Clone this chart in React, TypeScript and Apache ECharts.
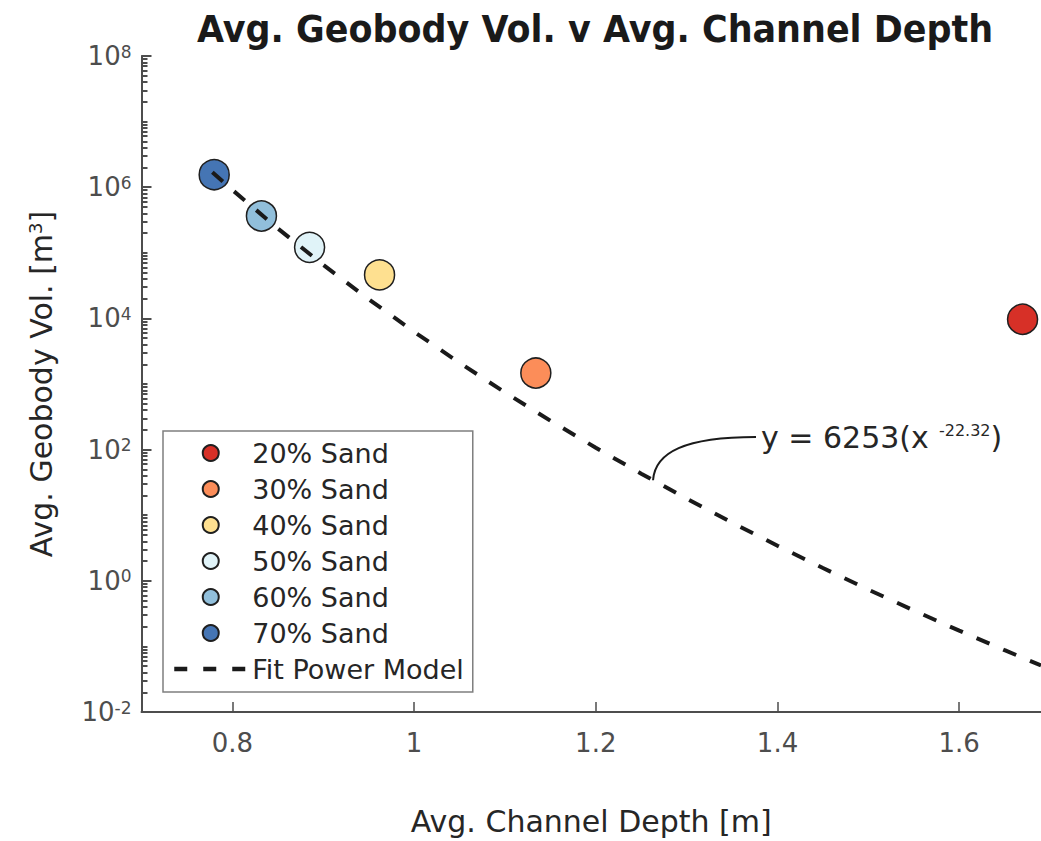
import React, { useEffect, useRef } from 'react';
import * as echarts from 'echarts';

// Sand classes, colours and averaged measurements
const sandLabels = ['20% Sand', '30% Sand', '40% Sand', '50% Sand', '60% Sand', '70% Sand'];
const sandColors = ['#d73027', '#fc8d59', '#fee090', '#e0f3f8', '#91bfdb', '#4575b4'];
const channelDepth = [1.6697, 1.134, 0.962, 0.885, 0.832, 0.78];
const geobodyVolume = [9.7e3, 1.47e3, 4.6e4, 1.21e5, 3.64e5, 1.55e6];

// Power-law fit y = a * x^b and the depths it is evaluated at
const fitLabel = 'Fit Power Model';
const fitCoefficient = 6253;
const fitExponent = -22.32;
const fitDepths = [
  0.778, 0.8, 0.85, 0.9, 0.95, 1.0, 1.05, 1.1, 1.15, 1.2, 1.25, 1.3, 1.35, 1.4, 1.45, 1.5,
  1.55, 1.6, 1.65, 1.69,
];
const annotationDepth = 1.263;

// Axis ticks
const depthTicks = [0.8, 1, 1.2, 1.4, 1.6];
const volumeTicks = [1e-2, 1, 1e2, 1e4, 1e6, 1e8];
const decadeExponents = [-2, -1, 0, 1, 2, 3, 4, 5, 6, 7];
const minorMultipliers = [2, 3, 4, 5, 6, 7, 8, 9];

const FONT = '"DejaVu Sans", Verdana, sans-serif';
const AXIS_COLOR = '#4d4d4d';
const TEXT_COLOR = '#262626';

const fitValue = (x: number) => fitCoefficient * Math.pow(x, fitExponent);

const minorVolumeTicks: number[] = [];
decadeExponents.forEach((e) => {
  if (e % 2 !== 0) minorVolumeTicks.push(Math.pow(10, e));
  minorMultipliers.forEach((m) => {
    minorVolumeTicks.push(Number((m * Math.pow(10, e)).toPrecision(3)));
  });
});

export default function App() {
  const ref = useRef<HTMLDivElement>(null);

  useEffect(() => {
    if (!ref.current) return;
    const chart = echarts.init(ref.current, undefined, { renderer: 'svg' });

    const scatterSeries = sandLabels.map((name, i) => ({
      name,
      type: 'scatter',
      data: [[channelDepth[i], geobodyVolume[i]]],
      symbol: 'circle',
      symbolSize: 30,
      itemStyle: { color: sandColors[i], borderColor: '#1f1f1f', borderWidth: 1.5, opacity: 1 },
      z: 2,
    }));

    const fitSeries = {
      name: fitLabel,
      type: 'line',
      data: fitDepths.map((x) => [x, fitValue(x)]),
      showSymbol: false,
      symbol: 'none',
      lineStyle: { color: '#1a1a1a', width: 4, type: [14, 15], cap: 'butt' },
      itemStyle: { color: '#1a1a1a' },
      z: 3,
    };

    const supRich = {
      b: { fontSize: 26, lineHeight: 26, verticalAlign: 'bottom', color: AXIS_COLOR, fontFamily: FONT },
      s: { fontSize: 17, lineHeight: 17, verticalAlign: 'top', color: AXIS_COLOR, fontFamily: FONT },
    };

    chart.setOption({
      animation: false,
      textStyle: { fontFamily: FONT },
      grid: { left: 141.5, top: 56, right: 0, bottom: 129, containLabel: false },
      xAxis: {
        type: 'value',
        min: 0.7,
        max: 1.69,
        name: 'Avg. Channel Depth [m]',
        nameLocation: 'middle',
        nameGap: 94,
        nameTextStyle: { fontSize: 30, color: TEXT_COLOR, fontFamily: FONT },
        axisLine: { show: true, lineStyle: { color: AXIS_COLOR, width: 2 } },
        axisTick: {
          show: true,
          inside: true,
          length: 10,
          customValues: depthTicks,
          lineStyle: { color: AXIS_COLOR, width: 1.5 },
        },
        axisLabel: {
          customValues: depthTicks,
          fontSize: 26,
          margin: 18,
          color: AXIS_COLOR,
          fontFamily: FONT,
        },
        splitLine: { show: false },
      },
      yAxis: [
        {
          type: 'log',
          logBase: 10,
          min: 1e-2,
          max: 1e8,
          position: 'left',
          name: 'Avg. Geobody Vol. [m{s|3}]',
          nameLocation: 'middle',
          nameGap: 85,
          nameTextStyle: {
            fontSize: 30,
            color: TEXT_COLOR,
            fontFamily: FONT,
            rich: {
              s: { fontSize: 18, lineHeight: 18, verticalAlign: 'top', color: TEXT_COLOR, fontFamily: FONT },
            },
          },
          axisLine: { show: true, lineStyle: { color: AXIS_COLOR, width: 2 } },
          axisTick: {
            show: true,
            inside: true,
            length: 10,
            customValues: volumeTicks,
            lineStyle: { color: AXIS_COLOR, width: 2 },
          },
          axisLabel: {
            customValues: volumeTicks,
            margin: 10,
            formatter: (v: number) => `{b|10}{s|${Math.round(Math.log10(v))}}`,
            rich: supRich,
          },
          splitLine: { show: false },
        },
        {
          type: 'log',
          logBase: 10,
          min: 1e-2,
          max: 1e8,
          position: 'left',
          axisLine: { show: false },
          axisTick: {
            show: true,
            inside: true,
            length: 6,
            customValues: minorVolumeTicks,
            lineStyle: { color: AXIS_COLOR, width: 2 },
          },
          axisLabel: { show: false },
          splitLine: { show: false },
        },
      ],
      legend: {
        orient: 'vertical',
        left: 163,
        top: 431,
        padding: [7, 9, 8, 9],
        itemWidth: 73,
        itemHeight: 16,
        itemGap: 6,
        backgroundColor: '#ffffff',
        borderColor: '#7f7f7f',
        borderWidth: 1.5,
        borderRadius: 0,
        textStyle: { fontSize: 27, lineHeight: 30, color: TEXT_COLOR, fontFamily: FONT },
        data: [
          ...sandLabels.map((name) => ({ name, icon: 'circle' })),
          {
            name: fitLabel,
            lineStyle: { width: 4.5, type: [13, 16], color: '#1a1a1a', cap: 'butt' },
            itemStyle: { opacity: 0, borderWidth: 0 },
          },
        ],
      },
      series: [...scatterSeries, fitSeries],
    });

    // Title and fit equation call-out, anchored to the fitted curve
    const end = chart.convertToPixel({ seriesIndex: sandLabels.length }, [
      annotationDepth,
      fitValue(annotationDepth),
    ]) as number[];
    const startX = 756;
    const startY = 437;

    chart.setOption({
      graphic: [
        {
          type: 'text',
          x: 595,
          y: 29,
          scaleX: 0.945,
          style: {
            text: 'Avg. Geobody Vol. v Avg. Channel Depth',
            fontSize: 37,
            fontWeight: 'bold',
            fontFamily: FONT,
            fill: '#1a1a1a',
            textAlign: 'center',
            textVerticalAlign: 'middle',
          },
        },
        {
          type: 'bezierCurve',
          shape: {
            x1: startX,
            y1: startY,
            cpx1: 685,
            cpy1: startY,
            cpx2: end[0] + 2,
            cpy2: end[1] - 28,
            x2: end[0],
            y2: end[1],
          },
          style: { stroke: '#1a1a1a', lineWidth: 2, fill: 'none' },
        },
        {
          type: 'text',
          x: 761,
          y: startY,
          style: {
            text: '{n|y = 6253(x}{s|  -22.32}{n|)}',
            textAlign: 'left',
            textVerticalAlign: 'middle',
            rich: {
              n: { fontSize: 30, lineHeight: 30, verticalAlign: 'bottom', fill: TEXT_COLOR, fontFamily: FONT },
              s: { fontSize: 16, lineHeight: 16, verticalAlign: 'top', fill: TEXT_COLOR, fontFamily: FONT },
            },
          },
        },
      ],
    });

    return () => chart.dispose();
  }, []);

  return (
    <div
      ref={ref}
      style={{ position: 'fixed', left: 0, top: 0, width: 1041, height: 841, background: '#ffffff' }}
    />
  );
}
